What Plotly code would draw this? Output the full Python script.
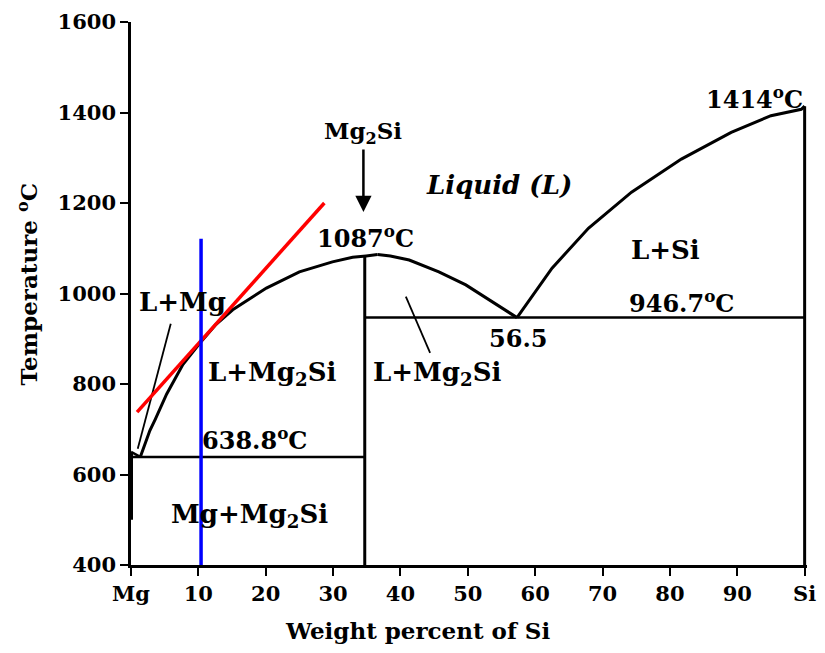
import plotly.graph_objects as go

# ---- data (wt% Si, temperature °C) ----
liq_mg2si_left_x = [1.38, 2.0, 2.8, 3.6, 5.3, 7.7, 10.2, 12.5, 15.1, 20.1, 25.0, 29.9, 32.9, 34.9, 36.6]
liq_mg2si_left_y = [638.8, 665, 697, 722, 778, 843, 890, 930, 964, 1012, 1048, 1070, 1080, 1083, 1086]
liq_mg2si_right_x = [36.6, 38.5, 41.3, 45.7, 49.7, 53.6, 57.3]
liq_mg2si_right_y = [1086, 1083, 1074, 1048, 1019, 982, 946.7]
liq_si_x = [57.3, 62.5, 67.9, 74.3, 81.7, 89.1, 95.0, 99.5, 100]
liq_si_y = [946.7, 1056, 1144, 1224, 1297, 1356, 1393, 1407, 1414]
liq_mg_x = [0, 1.38]
liq_mg_y = [650, 638.8]
mg_line_x = [0, 0]
mg_line_y = [650, 500]
si_line_x = [100, 100]
si_line_y = [1414, 400]
compound_x = [34.7, 34.7]
compound_y = [400, 1083]
eut1_x = [0, 34.7]
eut1_y = [638.8, 638.8]
eut2_x = [34.7, 100]
eut2_y = [946.7, 946.7]
leader_lmg_x = [5.9, 1.0]
leader_lmg_y = [933, 657]
leader_lmg2si_x = [40.8, 44.4]
leader_lmg2si_y = [993, 869]
red_x = [0.9, 28.7]
red_y = [738, 1200]
blue_x = [10.4, 10.4]
blue_y = [400, 1121]

x_tickvals = [0, 10, 20, 30, 40, 50, 60, 70, 80, 90, 100]
x_ticktext = ["Mg", "10", "20", "30", "40", "50", "60", "70", "80", "90", "Si"]
y_tickvals = [400, 600, 800, 1000, 1200, 1400, 1600]

labels = [
    ("1087<sup>o</sup>C", 34.8, 1125, 24, False),
    ("Liquid (L)", 54.6, 1240, 26, True),
    ("1414<sup>o</sup>C", 92.6, 1431, 24, False),
    ("L+Si", 79.4, 1097, 26, False),
    ("946.7<sup>o</sup>C", 81.7, 982, 24, False),
    ("56.5", 57.4, 901, 24, False),
    ("L+Mg<sub>2</sub>Si", 45.4, 824, 26, False),
    ("L+Mg<sub>2</sub>Si", 20.9, 824, 26, False),
    ("L+Mg", 7.7, 982, 26, False),
    ("638.8<sup>o</sup>C", 18.3, 679, 24, False),
    ("Mg+Mg<sub>2</sub>Si", 17.6, 510, 26, False),
]

FONT = "DejaVu Serif"

fig = go.Figure()

def add_line(x, y, width=3.0, color="black"):
    fig.add_trace(go.Scatter(x=x, y=y, mode="lines",
                             line=dict(color=color, width=width),
                             hoverinfo="skip", showlegend=False))

add_line(liq_mg2si_left_x, liq_mg2si_left_y)
add_line(liq_mg2si_right_x, liq_mg2si_right_y)
add_line(liq_si_x, liq_si_y)
add_line(liq_mg_x, liq_mg_y, 2.5)
add_line(mg_line_x, mg_line_y, 4)
add_line(si_line_x, si_line_y, 3)
add_line(compound_x, compound_y, 3)
add_line(eut1_x, eut1_y, 2.5)
add_line(eut2_x, eut2_y, 2.5)
add_line(leader_lmg_x, leader_lmg_y, 1.8)
add_line(leader_lmg2si_x, leader_lmg2si_y, 1.8)
add_line(red_x, red_y, 3.5, "#ff0000")
add_line(blue_x, blue_y, 3.5, "#0000ff")

annotations = []
for txt, x, y, size, italic in labels:
    annotations.append(dict(
        x=x, y=y, xref="x", yref="y", text=txt, showarrow=False,
        font=dict(family=FONT, size=size, color="black", weight="bold",
                  style="italic" if italic else "normal"),
        xanchor="center", yanchor="middle"))

# Mg2Si arrow
annotations.append(dict(
    x=34.5, y=1180, xref="x", yref="y",
    ax=34.5, ay=1356, axref="x", ayref="y",
    text="Mg<sub>2</sub>Si", showarrow=True,
    arrowhead=2, arrowsize=1.3, arrowwidth=2.5, arrowcolor="black",
    font=dict(family=FONT, size=23, color="black", weight="bold")))

# axis titles
annotations.append(dict(
    x=0.424, y=-0.121, xref="paper", yref="paper",
    text="Weight percent of Si", showarrow=False,
    font=dict(family=FONT, size=23, color="black", weight="bold"),
    xanchor="center", yanchor="middle"))
annotations.append(dict(
    x=-0.153, y=0.516, xref="paper", yref="paper",
    text="Temperature <sup>o</sup>C", showarrow=False, textangle=-90,
    font=dict(family=FONT, size=23, color="black", weight="bold"),
    xanchor="center", yanchor="middle"))

fig.update_layout(
    width=825, height=653,
    margin=dict(l=123, r=26, t=14, b=96),
    paper_bgcolor="white", plot_bgcolor="white",
    annotations=annotations,
    showlegend=False,
)
fig.update_xaxes(
    range=[0, 100.35], tickvals=x_tickvals, ticktext=x_ticktext, automargin=False,
    ticklabeloverflow="allow",
    showgrid=False, zeroline=False, showline=True, linecolor="black", linewidth=2.5,
    ticks="outside", ticklen=8, tickwidth=2, tickcolor="black",
    tickfont=dict(family=FONT, size=21, color="black", weight="bold"),
)
fig.update_yaxes(
    range=[400, 1600], tickvals=y_tickvals, automargin=False,
    ticklabeloverflow="allow",
    showgrid=False, zeroline=False, showline=True, linecolor="black", linewidth=2.5,
    ticks="outside", ticklen=8, tickwidth=2, tickcolor="black",
    tickfont=dict(family=FONT, size=21, color="black", weight="bold"),
)

fig.write_html("out.html")
